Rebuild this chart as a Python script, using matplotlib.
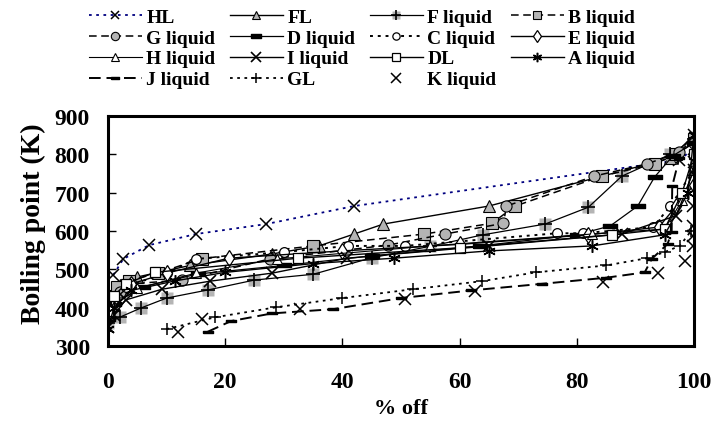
import matplotlib
matplotlib.use("Agg")
import matplotlib.pyplot as plt
from matplotlib.legend_handler import HandlerTuple

plt.rcParams['font.family'] = ['Liberation Serif', 'DejaVu Serif']
plt.rcParams['font.weight'] = 'bold'

# ---- data (% off, boiling point K) ----
hl_x = [0.9, 2.6, 7, 15, 27, 42, 97.5, 100]
hl_y = [485, 527, 563, 592, 618, 665, 785, 815]

fl_x = [0, 2, 5, 14, 28, 36, 42, 47, 65, 96, 100]
fl_y = [430, 460, 480, 510, 540, 561, 592, 618, 665, 790, 850]

f_x = [0, 2, 5.6, 10, 17, 25, 35, 45, 55, 64, 74.6, 82, 87.7, 96, 100]
f_y = [360, 375, 399, 425, 446, 472, 487, 530, 560, 590, 618, 662, 743, 800, 840]

b_x = [0, 1.5, 3.5, 8.5, 16, 35, 54, 65.5, 69.5, 84.3, 93.3, 97, 100]
b_y = [430, 455, 470, 490, 528, 561, 592, 620, 665, 743, 775, 800, 840]

g_x = [0, 2, 4, 12.6, 27.6, 47.8, 57.5, 67.5, 68, 83, 92, 97.5, 100]
g_y = [410, 440, 462, 472, 527, 563, 592, 620, 665, 743, 775, 805, 830]

d_x = [0, 1, 6, 15.4, 30, 45, 63.5, 80, 85.7, 90.4, 93.3, 96.4, 100]
d_y = [370, 410, 455, 488, 510, 535, 561, 590, 613, 665, 741, 796, 830]

c_x = [0, 1, 3, 10, 15, 30, 41, 50.7, 76.6, 81, 93, 96, 100]
c_y = [400, 430, 455, 490, 527, 545, 561, 561, 594, 594, 610, 665, 760]

e_x = [0, 1, 4, 10, 20.6, 40, 60, 82, 94, 97, 100]
e_y = [390, 420, 462, 490, 529, 548, 565, 590, 610, 665, 720]

h_x = [0, 1, 5, 15, 28.8, 55, 82.6, 95, 98, 100]
h_y = [380, 405, 450, 490, 527, 561, 592, 605, 680, 760]

i_x = [0, 1, 3, 9.2, 17.4, 28, 40.8, 65, 87.7, 97, 100]
i_y = [350, 380, 420, 448, 469, 490, 529, 561, 592, 640, 760]

dl_x = [0, 1, 3, 8, 32.5, 60, 86, 95, 98, 100]
dl_y = [390, 430, 462, 492, 529, 556, 590, 605, 700, 800]

a_x = [0, 1, 4, 11.5, 20, 35, 48.8, 65, 82.6, 95, 99, 100]
a_y = [345, 400, 445, 470, 492, 515, 529, 548, 561, 590, 700, 850]

j_x = [17, 21, 28, 38.4, 50, 62, 74, 85, 91.6, 92.8, 95.5, 96.2, 96.3, 97.5]
j_y = [337, 365, 385, 396, 425, 445, 462, 478, 492, 527, 566, 597, 717, 790]

gl_x = [10, 18.3, 28.7, 40, 52, 63.8, 73, 85, 92, 95, 97.6, 99.5]
gl_y = [344, 375, 401, 425, 448, 469, 492, 510, 529, 545, 561, 600]

k_x = [12, 16, 32.8, 50.7, 62.6, 84.5, 93.9, 98.5, 99.8, 99.8, 99.8, 99.8, 100, 100]
k_y = [336, 370, 396, 422, 443, 466, 490, 522, 561, 587, 613, 665, 780, 850]

x_ticks = [0, 20, 40, 60, 80, 100]
y_ticks = [300, 400, 500, 600, 700, 800, 900]

GRAY = '#b4b4b4'
bar_big = [(-1, -0.35), (1, -0.35), (1, 0.35), (-1, 0.35), (-1, -0.35)]
bar_small = [(-1, -0.3), (1, -0.3), (1, 0.3), (-1, 0.3), (-1, -0.3)]
asterisk = (6, 2, 0)

fig = plt.figure(figsize=(7.26, 4.39), dpi=100)
ax = fig.add_axes([0.1488, 0.2096, 0.807, 0.524])

h = {}
h['HL'] = ax.plot(hl_x, hl_y, color='#000080', ls=(0, (1.5, 2.5)), lw=1.3,
                  marker='x', ms=8, mec='black', mew=1.1)[0]
h['FL'] = ax.plot(fl_x, fl_y, color='black', ls='-', lw=1.0,
                  marker='^', ms=8, mfc=GRAY, mec='black', mew=0.8)[0]
fbg = ax.plot(f_x, f_y, ls='none', marker='s', ms=8, mfc=GRAY, mec='none')[0]
fln = ax.plot(f_x, f_y, color='black', ls='-', lw=0.9,
              marker='+', ms=10, mec='black', mew=1.2)[0]
h['F liquid'] = (fbg, fln)
h['B liquid'] = ax.plot(b_x, b_y, color='black', ls=(0, (5, 3)), lw=1.1,
                        marker='s', ms=8, mfc=GRAY, mec='black', mew=0.8)[0]
h['G liquid'] = ax.plot(g_x, g_y, color='black', ls=(0, (5, 3)), lw=1.1,
                        marker='o', ms=8, mfc=GRAY, mec='black', mew=0.8)[0]
h['D liquid'] = ax.plot(d_x, d_y, color='black', ls='-', lw=0.9,
                        marker=bar_big, ms=10, mfc='black', mec='black')[0]
h['C liquid'] = ax.plot(c_x, c_y, color='black', ls=(0, (1.5, 2.5)), lw=1.4,
                        marker='o', ms=7, mfc='white', mec='black', mew=0.9)[0]
h['E liquid'] = ax.plot(e_x, e_y, color='black', ls='-', lw=1.0,
                        marker='d', ms=8, mfc='white', mec='black', mew=0.9)[0]
h['H liquid'] = ax.plot(h_x, h_y, color='black', ls='-', lw=0.8,
                        marker='^', ms=7, mfc='white', mec='black', mew=0.8)[0]
h['I liquid'] = ax.plot(i_x, i_y, color='black', ls='-', lw=1.0,
                        marker='x', ms=9, mec='black', mew=1.2)[0]
h['DL'] = ax.plot(dl_x, dl_y, color='black', ls='-', lw=1.0,
                  marker='s', ms=7, mfc='white', mec='black', mew=0.9)[0]
h['A liquid'] = ax.plot(a_x, a_y, color='black', ls='-', lw=1.0,
                        marker=asterisk, ms=9, mec='black', mew=1.1)[0]
h['J liquid'] = ax.plot(j_x, j_y, color='black', ls=(0, (6, 3)), lw=1.4,
                        marker=bar_small, ms=7, mfc='black', mec='black')[0]
h['GL'] = ax.plot(gl_x, gl_y, color='black', ls=(0, (1.5, 2.5)), lw=1.3,
                  marker='+', ms=9, mec='black', mew=1.1)[0]
h['K liquid'] = ax.plot(k_x, k_y, ls='none', marker='x', ms=9,
                        mec='black', mew=1.1)[0]

ax.set_xlim(0, 100)
ax.set_ylim(300, 900)
ax.set_xticks(x_ticks)
ax.set_yticks(y_ticks)
ax.tick_params(direction='in', length=6, width=1, labelsize=17)
ax.tick_params(axis='y', pad=13)
ax.tick_params(axis='x', pad=18)
for lab in ax.get_xticklabels() + ax.get_yticklabels():
    lab.set_fontweight('bold')
for sp in ax.spines.values():
    sp.set_linewidth(2.2)
ax.set_xlabel('% off', fontsize=16, fontweight='bold')
ax.set_ylabel('Boiling point (K)', fontsize=20, fontweight='bold')
ax.xaxis.set_label_coords(0.5, -0.228)
ax.yaxis.set_label_coords(-0.106, 0.535)

order = ['HL', 'G liquid', 'H liquid', 'J liquid',
         'FL', 'D liquid', 'I liquid', 'GL',
         'F liquid', 'C liquid', 'DL', 'K liquid',
         'B liquid', 'E liquid', 'A liquid']
leg = fig.legend([h[k] for k in order], order, ncol=4, loc='upper left',
                 bbox_to_anchor=(89 / 726, 1 - 9 / 439), frameon=False,
                 prop={'family': 'Liberation Serif', 'weight': 'bold', 'size': 14},
                 handlelength=2.7, handletextpad=0.25, columnspacing=0.75,
                 labelspacing=0.17, borderpad=0.0, borderaxespad=0.0,
                 markerscale=0.75,
                 handler_map={tuple: HandlerTuple(ndivide=1, pad=0)})

fig.savefig('out.png', dpi=100)
